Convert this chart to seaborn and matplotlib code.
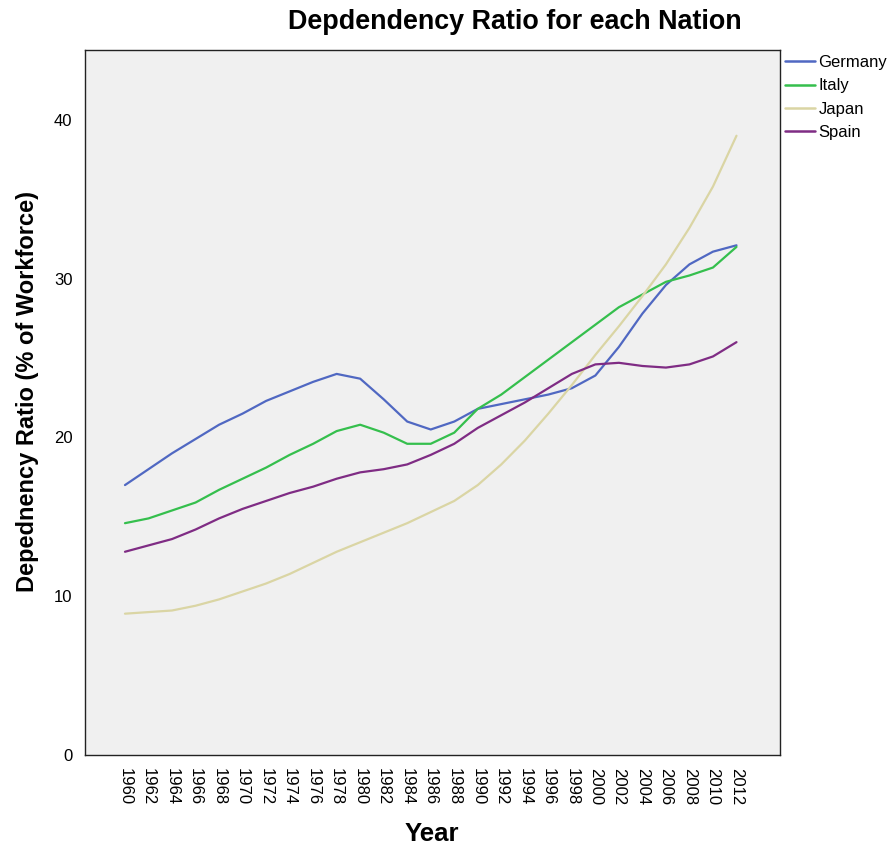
import numpy as np
import pandas as pd
import matplotlib
matplotlib.use("Agg")
import matplotlib.pyplot as plt
import seaborn as sns

years = list(range(1960, 2013, 2))
germany = [17.0, 18.0, 19.0, 19.9, 20.8, 21.5, 22.3, 22.9, 23.5, 24.0, 23.7, 22.4, 21.0, 20.5,
           21.0, 21.8, 22.1, 22.4, 22.7, 23.1, 23.9, 25.7, 27.8, 29.6, 30.9, 31.7, 32.1]
italy = [14.6, 14.9, 15.4, 15.9, 16.7, 17.4, 18.1, 18.9, 19.6, 20.4, 20.8, 20.3, 19.6, 19.6,
         20.3, 21.8, 22.7, 23.8, 24.9, 26.0, 27.1, 28.2, 29.0, 29.8, 30.2, 30.7, 32.0]
japan = [8.9, 9.0, 9.1, 9.4, 9.8, 10.3, 10.8, 11.4, 12.1, 12.8, 13.4, 14.0, 14.6, 15.3,
         16.0, 17.0, 18.3, 19.8, 21.5, 23.3, 25.2, 27.0, 28.9, 30.9, 33.2, 35.8, 39.0]
spain = [12.8, 13.2, 13.6, 14.2, 14.9, 15.5, 16.0, 16.5, 16.9, 17.4, 17.8, 18.0, 18.3, 18.9,
         19.6, 20.6, 21.4, 22.2, 23.1, 24.0, 24.6, 24.7, 24.5, 24.4, 24.6, 25.1, 26.0]
nations = ["Germany", "Italy", "Japan", "Spain"]
y_ticks = [0, 10, 20, 30, 40]

series = {"Germany": germany, "Italy": italy, "Japan": japan, "Spain": spain}
df = pd.DataFrame([
    {"Year": y, "Ratio": v, "Nation": n}
    for n in nations for y, v in zip(years, series[n])
])

sns.set_style("white")
plt.rcParams["font.family"] = ["Liberation Sans", "DejaVu Sans"]

palette = {"Germany": "#5068c2", "Italy": "#35bf4d", "Japan": "#dad5a4", "Spain": "#7f2c84"}

fig = plt.figure(figsize=(8.95, 8.48), dpi=100)
ax = fig.add_axes([85/895, 1 - 755/848, (780-85)/895, (755-50)/848])
ax.set_facecolor("#f0f0f0")

sns.lineplot(data=df, x="Year", y="Ratio", hue="Nation", hue_order=nations,
             palette=palette, linewidth=1.6, ax=ax, legend=True)

ax.set_xlim(1956.6, 2015.7)
ax.set_ylim(0, 44.4)
ax.set_yticks(y_ticks)
ax.set_yticklabels([str(t) for t in y_ticks], fontsize=12, color="black")
ax.set_xticks(years)
ax.set_xticklabels([str(y) for y in years], rotation=270, fontsize=12, color="black")
ax.tick_params(axis="both", direction="out", length=7, width=1.1, color="#111111", pad=2)
for s in ax.spines.values():
    s.set_color("#222222")
    s.set_linewidth(1.0)

ax.set_xlabel("")
ax.set_ylabel("")
fig.text(432/895, 1 - 834/848, "Year", fontsize=18.5, fontweight="bold", ha="center", va="center",
         color="black")
fig.text(28/895, 1 - 392/848, "Depednency Ratio (% of Workforce)", fontsize=17, fontweight="bold",
         ha="center", va="center", rotation=90, color="black")
fig.text(514.5/895, 1 - 22/848, "Depdendency Ratio for each Nation", fontsize=19.4, fontweight="bold",
         ha="center", va="center", color="black")

leg = ax.legend(loc="upper left", bbox_to_anchor=(1.0, 1.0), frameon=False, fontsize=12,
                handlelength=1.8, handletextpad=0.2, labelspacing=0.5, borderaxespad=0.2,
                borderpad=0.1)
for line in leg.get_lines():
    line.set_linewidth(1.8)
for t in leg.get_texts():
    t.set_color("black")

fig.savefig("out.png", dpi=100, facecolor="white")
